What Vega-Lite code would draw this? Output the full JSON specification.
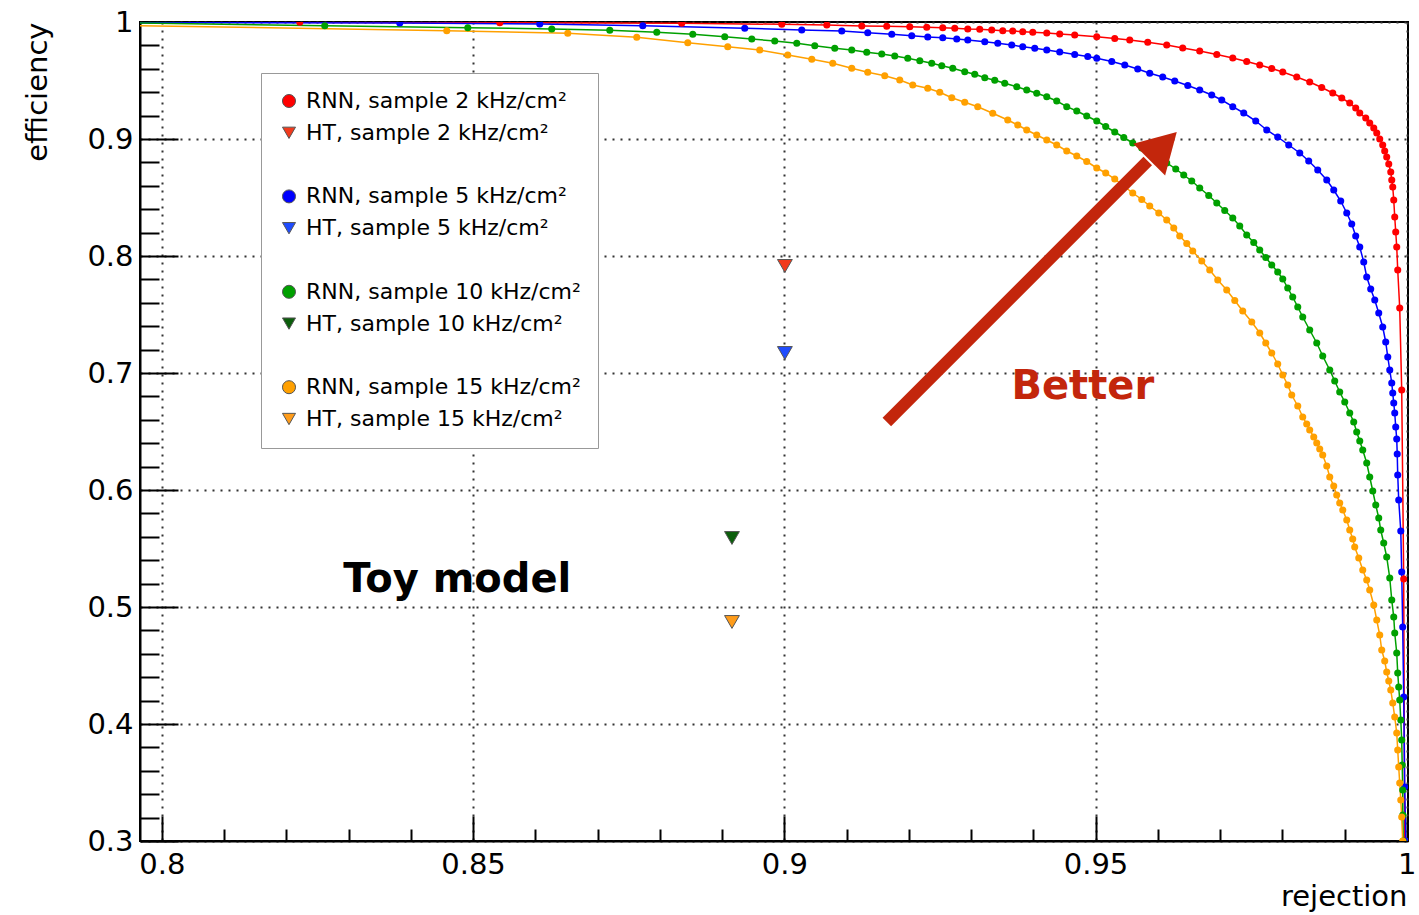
{
"$schema":"https://vega.github.io/schema/vega-lite/v6.json",
"width":1268,"height":819,
"autosize":{"type":"none"},
"padding":{"left":140,"top":22,"right":11,"bottom":74},
"background":"white",
"config":{"view":{"stroke":"black","strokeWidth":2},"font":"DejaVu Sans"},
"datasets":{
"curves":[
{"series":"RNN, sample 2 kHz/cm²","rejection":0.79,"efficiency":1.0},
{"series":"RNN, sample 2 kHz/cm²","rejection":0.82217,"efficiency":0.99974},
{"series":"RNN, sample 2 kHz/cm²","rejection":0.8543,"efficiency":0.9994},
{"series":"RNN, sample 2 kHz/cm²","rejection":0.88353,"efficiency":0.99889},
{"series":"RNN, sample 2 kHz/cm²","rejection":0.8996,"efficiency":0.99803},
{"series":"RNN, sample 2 kHz/cm²","rejection":0.90683,"efficiency":0.99744},
{"series":"RNN, sample 2 kHz/cm²","rejection":0.91245,"efficiency":0.99658},
{"series":"RNN, sample 2 kHz/cm²","rejection":0.91646,"efficiency":0.9964},
{"series":"RNN, sample 2 kHz/cm²","rejection":0.92016,"efficiency":0.99598},
{"series":"RNN, sample 2 kHz/cm²","rejection":0.92289,"efficiency":0.99547},
{"series":"RNN, sample 2 kHz/cm²","rejection":0.92546,"efficiency":0.99513},
{"series":"RNN, sample 2 kHz/cm²","rejection":0.92739,"efficiency":0.99462},
{"series":"RNN, sample 2 kHz/cm²","rejection":0.92948,"efficiency":0.99402},
{"series":"RNN, sample 2 kHz/cm²","rejection":0.9314,"efficiency":0.99376},
{"series":"RNN, sample 2 kHz/cm²","rejection":0.93333,"efficiency":0.99316},
{"series":"RNN, sample 2 kHz/cm²","rejection":0.9351,"efficiency":0.99256},
{"series":"RNN, sample 2 kHz/cm²","rejection":0.9367,"efficiency":0.99231},
{"series":"RNN, sample 2 kHz/cm²","rejection":0.93831,"efficiency":0.99171},
{"series":"RNN, sample 2 kHz/cm²","rejection":0.93992,"efficiency":0.9912},
{"series":"RNN, sample 2 kHz/cm²","rejection":0.94217,"efficiency":0.9906},
{"series":"RNN, sample 2 kHz/cm²","rejection":0.94425,"efficiency":0.98974},
{"series":"RNN, sample 2 kHz/cm²","rejection":0.94666,"efficiency":0.98889},
{"series":"RNN, sample 2 kHz/cm²","rejection":0.9502,"efficiency":0.98744},
{"series":"RNN, sample 2 kHz/cm²","rejection":0.95309,"efficiency":0.9859},
{"series":"RNN, sample 2 kHz/cm²","rejection":0.9555,"efficiency":0.98462},
{"series":"RNN, sample 2 kHz/cm²","rejection":0.95839,"efficiency":0.98265},
{"series":"RNN, sample 2 kHz/cm²","rejection":0.96144,"efficiency":0.98034},
{"series":"RNN, sample 2 kHz/cm²","rejection":0.96401,"efficiency":0.97778},
{"series":"RNN, sample 2 kHz/cm²","rejection":0.96674,"efficiency":0.97521},
{"series":"RNN, sample 2 kHz/cm²","rejection":0.96948,"efficiency":0.97222},
{"series":"RNN, sample 2 kHz/cm²","rejection":0.97205,"efficiency":0.96923},
{"series":"RNN, sample 2 kHz/cm²","rejection":0.97429,"efficiency":0.96624},
{"series":"RNN, sample 2 kHz/cm²","rejection":0.97638,"efficiency":0.96325},
{"series":"RNN, sample 2 kHz/cm²","rejection":0.97831,"efficiency":0.96026},
{"series":"RNN, sample 2 kHz/cm²","rejection":0.98008,"efficiency":0.95726},
{"series":"RNN, sample 2 kHz/cm²","rejection":0.98233,"efficiency":0.95299},
{"series":"RNN, sample 2 kHz/cm²","rejection":0.98441,"efficiency":0.94872},
{"series":"RNN, sample 2 kHz/cm²","rejection":0.98634,"efficiency":0.94402},
{"series":"RNN, sample 2 kHz/cm²","rejection":0.98811,"efficiency":0.93932},
{"series":"RNN, sample 2 kHz/cm²","rejection":0.98956,"efficiency":0.93504},
{"series":"RNN, sample 2 kHz/cm²","rejection":0.99084,"efficiency":0.93077},
{"series":"RNN, sample 2 kHz/cm²","rejection":0.9918,"efficiency":0.9265},
{"series":"RNN, sample 2 kHz/cm²","rejection":0.99245,"efficiency":0.92222},
{"series":"RNN, sample 2 kHz/cm²","rejection":0.99341,"efficiency":0.91795},
{"series":"RNN, sample 2 kHz/cm²","rejection":0.99405,"efficiency":0.91368},
{"series":"RNN, sample 2 kHz/cm²","rejection":0.9947,"efficiency":0.9094},
{"series":"RNN, sample 2 kHz/cm²","rejection":0.99518,"efficiency":0.90513},
{"series":"RNN, sample 2 kHz/cm²","rejection":0.99566,"efficiency":0.9},
{"series":"RNN, sample 2 kHz/cm²","rejection":0.99614,"efficiency":0.89487},
{"series":"RNN, sample 2 kHz/cm²","rejection":0.99646,"efficiency":0.88974},
{"series":"RNN, sample 2 kHz/cm²","rejection":0.99678,"efficiency":0.88462},
{"series":"RNN, sample 2 kHz/cm²","rejection":0.99711,"efficiency":0.87863},
{"series":"RNN, sample 2 kHz/cm²","rejection":0.99743,"efficiency":0.87179},
{"series":"RNN, sample 2 kHz/cm²","rejection":0.99759,"efficiency":0.86496},
{"series":"RNN, sample 2 kHz/cm²","rejection":0.99775,"efficiency":0.85897},
{"series":"RNN, sample 2 kHz/cm²","rejection":0.99791,"efficiency":0.84786},
{"series":"RNN, sample 2 kHz/cm²","rejection":0.99807,"efficiency":0.83333},
{"series":"RNN, sample 2 kHz/cm²","rejection":0.99823,"efficiency":0.82051},
{"series":"RNN, sample 2 kHz/cm²","rejection":0.99839,"efficiency":0.80769},
{"series":"RNN, sample 2 kHz/cm²","rejection":0.99855,"efficiency":0.78803},
{"series":"RNN, sample 2 kHz/cm²","rejection":0.99887,"efficiency":0.75556},
{"series":"RNN, sample 2 kHz/cm²","rejection":0.99919,"efficiency":0.68547},
{"series":"RNN, sample 2 kHz/cm²","rejection":0.99951,"efficiency":0.52393},
{"series":"RNN, sample 2 kHz/cm²","rejection":0.99967,"efficiency":0.3},
{"series":"RNN, sample 5 kHz/cm²","rejection":0.79,"efficiency":0.99957},
{"series":"RNN, sample 5 kHz/cm²","rejection":0.83823,"efficiency":0.99915},
{"series":"RNN, sample 5 kHz/cm²","rejection":0.86072,"efficiency":0.99829},
{"series":"RNN, sample 5 kHz/cm²","rejection":0.87727,"efficiency":0.99684},
{"series":"RNN, sample 5 kHz/cm²","rejection":0.89365,"efficiency":0.99462},
{"series":"RNN, sample 5 kHz/cm²","rejection":0.90281,"efficiency":0.99316},
{"series":"RNN, sample 5 kHz/cm²","rejection":0.90924,"efficiency":0.99231},
{"series":"RNN, sample 5 kHz/cm²","rejection":0.91341,"efficiency":0.99085},
{"series":"RNN, sample 5 kHz/cm²","rejection":0.91727,"efficiency":0.98949},
{"series":"RNN, sample 5 kHz/cm²","rejection":0.92048,"efficiency":0.98829},
{"series":"RNN, sample 5 kHz/cm²","rejection":0.92305,"efficiency":0.98718},
{"series":"RNN, sample 5 kHz/cm²","rejection":0.92546,"efficiency":0.98658},
{"series":"RNN, sample 5 kHz/cm²","rejection":0.92771,"efficiency":0.98547},
{"series":"RNN, sample 5 kHz/cm²","rejection":0.92948,"efficiency":0.98462},
{"series":"RNN, sample 5 kHz/cm²","rejection":0.93221,"efficiency":0.98316},
{"series":"RNN, sample 5 kHz/cm²","rejection":0.9343,"efficiency":0.98179},
{"series":"RNN, sample 5 kHz/cm²","rejection":0.93654,"efficiency":0.98034},
{"series":"RNN, sample 5 kHz/cm²","rejection":0.93831,"efficiency":0.97889},
{"series":"RNN, sample 5 kHz/cm²","rejection":0.94024,"efficiency":0.97752},
{"series":"RNN, sample 5 kHz/cm²","rejection":0.94217,"efficiency":0.97607},
{"series":"RNN, sample 5 kHz/cm²","rejection":0.94425,"efficiency":0.97436},
{"series":"RNN, sample 5 kHz/cm²","rejection":0.94666,"efficiency":0.97222},
{"series":"RNN, sample 5 kHz/cm²","rejection":0.94875,"efficiency":0.97051},
{"series":"RNN, sample 5 kHz/cm²","rejection":0.9502,"efficiency":0.96897},
{"series":"RNN, sample 5 kHz/cm²","rejection":0.95261,"efficiency":0.96624},
{"series":"RNN, sample 5 kHz/cm²","rejection":0.9547,"efficiency":0.96325},
{"series":"RNN, sample 5 kHz/cm²","rejection":0.95678,"efficiency":0.95983},
{"series":"RNN, sample 5 kHz/cm²","rejection":0.95871,"efficiency":0.95615},
{"series":"RNN, sample 5 kHz/cm²","rejection":0.9608,"efficiency":0.95299},
{"series":"RNN, sample 5 kHz/cm²","rejection":0.96273,"efficiency":0.94957},
{"series":"RNN, sample 5 kHz/cm²","rejection":0.96482,"efficiency":0.94573},
{"series":"RNN, sample 5 kHz/cm²","rejection":0.96674,"efficiency":0.94188},
{"series":"RNN, sample 5 kHz/cm²","rejection":0.96867,"efficiency":0.93761},
{"series":"RNN, sample 5 kHz/cm²","rejection":0.97028,"efficiency":0.93333},
{"series":"RNN, sample 5 kHz/cm²","rejection":0.97205,"efficiency":0.92761},
{"series":"RNN, sample 5 kHz/cm²","rejection":0.97381,"efficiency":0.92222},
{"series":"RNN, sample 5 kHz/cm²","rejection":0.97574,"efficiency":0.91538},
{"series":"RNN, sample 5 kHz/cm²","rejection":0.97751,"efficiency":0.90769},
{"series":"RNN, sample 5 kHz/cm²","rejection":0.97927,"efficiency":0.90171},
{"series":"RNN, sample 5 kHz/cm²","rejection":0.98104,"efficiency":0.89487},
{"series":"RNN, sample 5 kHz/cm²","rejection":0.98281,"efficiency":0.88803},
{"series":"RNN, sample 5 kHz/cm²","rejection":0.98425,"efficiency":0.8812},
{"series":"RNN, sample 5 kHz/cm²","rejection":0.9857,"efficiency":0.8735},
{"series":"RNN, sample 5 kHz/cm²","rejection":0.98715,"efficiency":0.86496},
{"series":"RNN, sample 5 kHz/cm²","rejection":0.98827,"efficiency":0.85641},
{"series":"RNN, sample 5 kHz/cm²","rejection":0.98939,"efficiency":0.84701},
{"series":"RNN, sample 5 kHz/cm²","rejection":0.99036,"efficiency":0.83675},
{"series":"RNN, sample 5 kHz/cm²","rejection":0.99116,"efficiency":0.82735},
{"series":"RNN, sample 5 kHz/cm²","rejection":0.9918,"efficiency":0.81709},
{"series":"RNN, sample 5 kHz/cm²","rejection":0.99245,"efficiency":0.80769},
{"series":"RNN, sample 5 kHz/cm²","rejection":0.99309,"efficiency":0.79487},
{"series":"RNN, sample 5 kHz/cm²","rejection":0.99357,"efficiency":0.78205},
{"series":"RNN, sample 5 kHz/cm²","rejection":0.99421,"efficiency":0.77179},
{"series":"RNN, sample 5 kHz/cm²","rejection":0.99486,"efficiency":0.76239},
{"series":"RNN, sample 5 kHz/cm²","rejection":0.9955,"efficiency":0.75128},
{"series":"RNN, sample 5 kHz/cm²","rejection":0.99614,"efficiency":0.73932},
{"series":"RNN, sample 5 kHz/cm²","rejection":0.99662,"efficiency":0.7265},
{"series":"RNN, sample 5 kHz/cm²","rejection":0.99695,"efficiency":0.71368},
{"series":"RNN, sample 5 kHz/cm²","rejection":0.99727,"efficiency":0.70256},
{"series":"RNN, sample 5 kHz/cm²","rejection":0.99759,"efficiency":0.69145},
{"series":"RNN, sample 5 kHz/cm²","rejection":0.99775,"efficiency":0.68291},
{"series":"RNN, sample 5 kHz/cm²","rejection":0.99791,"efficiency":0.67436},
{"series":"RNN, sample 5 kHz/cm²","rejection":0.99807,"efficiency":0.66581},
{"series":"RNN, sample 5 kHz/cm²","rejection":0.99823,"efficiency":0.65385},
{"series":"RNN, sample 5 kHz/cm²","rejection":0.99839,"efficiency":0.64359},
{"series":"RNN, sample 5 kHz/cm²","rejection":0.99847,"efficiency":0.63077},
{"series":"RNN, sample 5 kHz/cm²","rejection":0.99855,"efficiency":0.61282},
{"series":"RNN, sample 5 kHz/cm²","rejection":0.99871,"efficiency":0.59145},
{"series":"RNN, sample 5 kHz/cm²","rejection":0.99904,"efficiency":0.56496},
{"series":"RNN, sample 5 kHz/cm²","rejection":0.99919,"efficiency":0.52991},
{"series":"RNN, sample 5 kHz/cm²","rejection":0.99935,"efficiency":0.48291},
{"series":"RNN, sample 5 kHz/cm²","rejection":0.99951,"efficiency":0.42308},
{"series":"RNN, sample 5 kHz/cm²","rejection":0.99967,"efficiency":0.34615},
{"series":"RNN, sample 5 kHz/cm²","rejection":0.99984,"efficiency":0.3},
{"series":"RNN, sample 10 kHz/cm²","rejection":0.79,"efficiency":0.99957},
{"series":"RNN, sample 10 kHz/cm²","rejection":0.82618,"efficiency":0.99684},
{"series":"RNN, sample 10 kHz/cm²","rejection":0.84916,"efficiency":0.99513},
{"series":"RNN, sample 10 kHz/cm²","rejection":0.86265,"efficiency":0.99402},
{"series":"RNN, sample 10 kHz/cm²","rejection":0.87197,"efficiency":0.99291},
{"series":"RNN, sample 10 kHz/cm²","rejection":0.87952,"efficiency":0.9912},
{"series":"RNN, sample 10 kHz/cm²","rejection":0.8853,"efficiency":0.98949},
{"series":"RNN, sample 10 kHz/cm²","rejection":0.89044,"efficiency":0.98744},
{"series":"RNN, sample 10 kHz/cm²","rejection":0.89478,"efficiency":0.98547},
{"series":"RNN, sample 10 kHz/cm²","rejection":0.89847,"efficiency":0.98376},
{"series":"RNN, sample 10 kHz/cm²","rejection":0.90201,"efficiency":0.98179},
{"series":"RNN, sample 10 kHz/cm²","rejection":0.9049,"efficiency":0.97974},
{"series":"RNN, sample 10 kHz/cm²","rejection":0.90811,"efficiency":0.97752},
{"series":"RNN, sample 10 kHz/cm²","rejection":0.91084,"efficiency":0.97607},
{"series":"RNN, sample 10 kHz/cm²","rejection":0.91325,"efficiency":0.9741},
{"series":"RNN, sample 10 kHz/cm²","rejection":0.91566,"efficiency":0.97265},
{"series":"RNN, sample 10 kHz/cm²","rejection":0.91775,"efficiency":0.97094},
{"series":"RNN, sample 10 kHz/cm²","rejection":0.91984,"efficiency":0.96897},
{"series":"RNN, sample 10 kHz/cm²","rejection":0.92177,"efficiency":0.96692},
{"series":"RNN, sample 10 kHz/cm²","rejection":0.92369,"efficiency":0.9647},
{"series":"RNN, sample 10 kHz/cm²","rejection":0.9253,"efficiency":0.96265},
{"series":"RNN, sample 10 kHz/cm²","rejection":0.92707,"efficiency":0.96043},
{"series":"RNN, sample 10 kHz/cm²","rejection":0.92899,"efficiency":0.95752},
{"series":"RNN, sample 10 kHz/cm²","rejection":0.9306,"efficiency":0.9553},
{"series":"RNN, sample 10 kHz/cm²","rejection":0.93221,"efficiency":0.95239},
{"series":"RNN, sample 10 kHz/cm²","rejection":0.93381,"efficiency":0.95017},
{"series":"RNN, sample 10 kHz/cm²","rejection":0.93542,"efficiency":0.94761},
{"series":"RNN, sample 10 kHz/cm²","rejection":0.93735,"efficiency":0.9447},
{"series":"RNN, sample 10 kHz/cm²","rejection":0.93895,"efficiency":0.94188},
{"series":"RNN, sample 10 kHz/cm²","rejection":0.94056,"efficiency":0.93906},
{"series":"RNN, sample 10 kHz/cm²","rejection":0.94217,"efficiency":0.93615},
{"series":"RNN, sample 10 kHz/cm²","rejection":0.94377,"efficiency":0.93248},
{"series":"RNN, sample 10 kHz/cm²","rejection":0.94538,"efficiency":0.92761},
{"series":"RNN, sample 10 kHz/cm²","rejection":0.94699,"efficiency":0.92393},
{"series":"RNN, sample 10 kHz/cm²","rejection":0.94859,"efficiency":0.91966},
{"series":"RNN, sample 10 kHz/cm²","rejection":0.9502,"efficiency":0.91538},
{"series":"RNN, sample 10 kHz/cm²","rejection":0.95164,"efficiency":0.91068},
{"series":"RNN, sample 10 kHz/cm²","rejection":0.95309,"efficiency":0.90598},
{"series":"RNN, sample 10 kHz/cm²","rejection":0.95454,"efficiency":0.90128},
{"series":"RNN, sample 10 kHz/cm²","rejection":0.95598,"efficiency":0.89658},
{"series":"RNN, sample 10 kHz/cm²","rejection":0.95743,"efficiency":0.89231},
{"series":"RNN, sample 10 kHz/cm²","rejection":0.95871,"efficiency":0.88803},
{"series":"RNN, sample 10 kHz/cm²","rejection":0.96016,"efficiency":0.88376},
{"series":"RNN, sample 10 kHz/cm²","rejection":0.96144,"efficiency":0.87949},
{"series":"RNN, sample 10 kHz/cm²","rejection":0.96289,"efficiency":0.87436},
{"series":"RNN, sample 10 kHz/cm²","rejection":0.96417,"efficiency":0.86923},
{"series":"RNN, sample 10 kHz/cm²","rejection":0.96546,"efficiency":0.8641},
{"series":"RNN, sample 10 kHz/cm²","rejection":0.96674,"efficiency":0.85812},
{"series":"RNN, sample 10 kHz/cm²","rejection":0.96819,"efficiency":0.85171},
{"series":"RNN, sample 10 kHz/cm²","rejection":0.96948,"efficiency":0.8453},
{"series":"RNN, sample 10 kHz/cm²","rejection":0.97076,"efficiency":0.83889},
{"series":"RNN, sample 10 kHz/cm²","rejection":0.97205,"efficiency":0.83248},
{"series":"RNN, sample 10 kHz/cm²","rejection":0.97317,"efficiency":0.82564},
{"series":"RNN, sample 10 kHz/cm²","rejection":0.97429,"efficiency":0.81795},
{"series":"RNN, sample 10 kHz/cm²","rejection":0.97542,"efficiency":0.81154},
{"series":"RNN, sample 10 kHz/cm²","rejection":0.97638,"efficiency":0.80513},
{"series":"RNN, sample 10 kHz/cm²","rejection":0.97735,"efficiency":0.79872},
{"series":"RNN, sample 10 kHz/cm²","rejection":0.97831,"efficiency":0.79231},
{"series":"RNN, sample 10 kHz/cm²","rejection":0.97927,"efficiency":0.78632},
{"series":"RNN, sample 10 kHz/cm²","rejection":0.98008,"efficiency":0.78034},
{"series":"RNN, sample 10 kHz/cm²","rejection":0.98088,"efficiency":0.77265},
{"series":"RNN, sample 10 kHz/cm²","rejection":0.98168,"efficiency":0.76496},
{"series":"RNN, sample 10 kHz/cm²","rejection":0.98249,"efficiency":0.75641},
{"series":"RNN, sample 10 kHz/cm²","rejection":0.98329,"efficiency":0.74786},
{"series":"RNN, sample 10 kHz/cm²","rejection":0.98441,"efficiency":0.73675},
{"series":"RNN, sample 10 kHz/cm²","rejection":0.98554,"efficiency":0.72564},
{"series":"RNN, sample 10 kHz/cm²","rejection":0.9865,"efficiency":0.71453},
{"series":"RNN, sample 10 kHz/cm²","rejection":0.98763,"efficiency":0.70256},
{"series":"RNN, sample 10 kHz/cm²","rejection":0.98843,"efficiency":0.69316},
{"series":"RNN, sample 10 kHz/cm²","rejection":0.98923,"efficiency":0.68376},
{"series":"RNN, sample 10 kHz/cm²","rejection":0.99004,"efficiency":0.67521},
{"series":"RNN, sample 10 kHz/cm²","rejection":0.99084,"efficiency":0.66581},
{"series":"RNN, sample 10 kHz/cm²","rejection":0.99148,"efficiency":0.65812},
{"series":"RNN, sample 10 kHz/cm²","rejection":0.99196,"efficiency":0.64957},
{"series":"RNN, sample 10 kHz/cm²","rejection":0.99245,"efficiency":0.64188},
{"series":"RNN, sample 10 kHz/cm²","rejection":0.99293,"efficiency":0.63419},
{"series":"RNN, sample 10 kHz/cm²","rejection":0.99357,"efficiency":0.62308},
{"series":"RNN, sample 10 kHz/cm²","rejection":0.99405,"efficiency":0.61111},
{"series":"RNN, sample 10 kHz/cm²","rejection":0.99454,"efficiency":0.59915},
{"series":"RNN, sample 10 kHz/cm²","rejection":0.99502,"efficiency":0.58718},
{"series":"RNN, sample 10 kHz/cm²","rejection":0.9955,"efficiency":0.57607},
{"series":"RNN, sample 10 kHz/cm²","rejection":0.99582,"efficiency":0.56581},
{"series":"RNN, sample 10 kHz/cm²","rejection":0.9963,"efficiency":0.5547},
{"series":"RNN, sample 10 kHz/cm²","rejection":0.99678,"efficiency":0.54274},
{"series":"RNN, sample 10 kHz/cm²","rejection":0.99727,"efficiency":0.52479},
{"series":"RNN, sample 10 kHz/cm²","rejection":0.99759,"efficiency":0.50598},
{"series":"RNN, sample 10 kHz/cm²","rejection":0.99791,"efficiency":0.49145},
{"series":"RNN, sample 10 kHz/cm²","rejection":0.99807,"efficiency":0.47778},
{"series":"RNN, sample 10 kHz/cm²","rejection":0.99839,"efficiency":0.46068},
{"series":"RNN, sample 10 kHz/cm²","rejection":0.99855,"efficiency":0.44359},
{"series":"RNN, sample 10 kHz/cm²","rejection":0.99871,"efficiency":0.43162},
{"series":"RNN, sample 10 kHz/cm²","rejection":0.99887,"efficiency":0.42051},
{"series":"RNN, sample 10 kHz/cm²","rejection":0.99904,"efficiency":0.40342},
{"series":"RNN, sample 10 kHz/cm²","rejection":0.99919,"efficiency":0.38632},
{"series":"RNN, sample 10 kHz/cm²","rejection":0.99927,"efficiency":0.36496},
{"series":"RNN, sample 10 kHz/cm²","rejection":0.99935,"efficiency":0.34359},
{"series":"RNN, sample 10 kHz/cm²","rejection":0.99937,"efficiency":0.32222},
{"series":"RNN, sample 10 kHz/cm²","rejection":0.99943,"efficiency":0.3},
{"series":"RNN, sample 15 kHz/cm²","rejection":0.79,"efficiency":0.99744},
{"series":"RNN, sample 15 kHz/cm²","rejection":0.84578,"efficiency":0.99256},
{"series":"RNN, sample 15 kHz/cm²","rejection":0.86522,"efficiency":0.99034},
{"series":"RNN, sample 15 kHz/cm²","rejection":0.8763,"efficiency":0.98692},
{"series":"RNN, sample 15 kHz/cm²","rejection":0.8845,"efficiency":0.98231},
{"series":"RNN, sample 15 kHz/cm²","rejection":0.89092,"efficiency":0.97889},
{"series":"RNN, sample 15 kHz/cm²","rejection":0.89606,"efficiency":0.97607},
{"series":"RNN, sample 15 kHz/cm²","rejection":0.90056,"efficiency":0.97179},
{"series":"RNN, sample 15 kHz/cm²","rejection":0.90442,"efficiency":0.96812},
{"series":"RNN, sample 15 kHz/cm²","rejection":0.90779,"efficiency":0.9647},
{"series":"RNN, sample 15 kHz/cm²","rejection":0.91084,"efficiency":0.96043},
{"series":"RNN, sample 15 kHz/cm²","rejection":0.91341,"efficiency":0.95701},
{"series":"RNN, sample 15 kHz/cm²","rejection":0.91614,"efficiency":0.9541},
{"series":"RNN, sample 15 kHz/cm²","rejection":0.91855,"efficiency":0.95043},
{"series":"RNN, sample 15 kHz/cm²","rejection":0.92064,"efficiency":0.94615},
{"series":"RNN, sample 15 kHz/cm²","rejection":0.92305,"efficiency":0.94333},
{"series":"RNN, sample 15 kHz/cm²","rejection":0.92498,"efficiency":0.93991},
{"series":"RNN, sample 15 kHz/cm²","rejection":0.92691,"efficiency":0.9353},
{"series":"RNN, sample 15 kHz/cm²","rejection":0.92899,"efficiency":0.93137},
{"series":"RNN, sample 15 kHz/cm²","rejection":0.93108,"efficiency":0.92761},
{"series":"RNN, sample 15 kHz/cm²","rejection":0.93349,"efficiency":0.92197},
{"series":"RNN, sample 15 kHz/cm²","rejection":0.9359,"efficiency":0.91624},
{"series":"RNN, sample 15 kHz/cm²","rejection":0.93751,"efficiency":0.91197},
{"series":"RNN, sample 15 kHz/cm²","rejection":0.93895,"efficiency":0.90769},
{"series":"RNN, sample 15 kHz/cm²","rejection":0.94056,"efficiency":0.90342},
{"series":"RNN, sample 15 kHz/cm²","rejection":0.94217,"efficiency":0.89915},
{"series":"RNN, sample 15 kHz/cm²","rejection":0.94377,"efficiency":0.89487},
{"series":"RNN, sample 15 kHz/cm²","rejection":0.94538,"efficiency":0.88974},
{"series":"RNN, sample 15 kHz/cm²","rejection":0.94699,"efficiency":0.88547},
{"series":"RNN, sample 15 kHz/cm²","rejection":0.94859,"efficiency":0.88077},
{"series":"RNN, sample 15 kHz/cm²","rejection":0.9502,"efficiency":0.87521},
{"series":"RNN, sample 15 kHz/cm²","rejection":0.95164,"efficiency":0.87094},
{"series":"RNN, sample 15 kHz/cm²","rejection":0.95309,"efficiency":0.86581},
{"series":"RNN, sample 15 kHz/cm²","rejection":0.95454,"efficiency":0.85983},
{"series":"RNN, sample 15 kHz/cm²","rejection":0.95598,"efficiency":0.85385},
{"series":"RNN, sample 15 kHz/cm²","rejection":0.95743,"efficiency":0.84829},
{"series":"RNN, sample 15 kHz/cm²","rejection":0.95871,"efficiency":0.84274},
{"series":"RNN, sample 15 kHz/cm²","rejection":0.96016,"efficiency":0.83675},
{"series":"RNN, sample 15 kHz/cm²","rejection":0.96144,"efficiency":0.83077},
{"series":"RNN, sample 15 kHz/cm²","rejection":0.96257,"efficiency":0.82393},
{"series":"RNN, sample 15 kHz/cm²","rejection":0.96353,"efficiency":0.81709},
{"series":"RNN, sample 15 kHz/cm²","rejection":0.96466,"efficiency":0.81068},
{"series":"RNN, sample 15 kHz/cm²","rejection":0.96562,"efficiency":0.80427},
{"series":"RNN, sample 15 kHz/cm²","rejection":0.96707,"efficiency":0.79573},
{"series":"RNN, sample 15 kHz/cm²","rejection":0.96835,"efficiency":0.78803},
{"series":"RNN, sample 15 kHz/cm²","rejection":0.96964,"efficiency":0.77949},
{"series":"RNN, sample 15 kHz/cm²","rejection":0.97108,"efficiency":0.77094},
{"series":"RNN, sample 15 kHz/cm²","rejection":0.97237,"efficiency":0.76197},
{"series":"RNN, sample 15 kHz/cm²","rejection":0.97365,"efficiency":0.75299},
{"series":"RNN, sample 15 kHz/cm²","rejection":0.9751,"efficiency":0.74359},
{"series":"RNN, sample 15 kHz/cm²","rejection":0.97638,"efficiency":0.73419},
{"series":"RNN, sample 15 kHz/cm²","rejection":0.97735,"efficiency":0.72564},
{"series":"RNN, sample 15 kHz/cm²","rejection":0.97831,"efficiency":0.71709},
{"series":"RNN, sample 15 kHz/cm²","rejection":0.97927,"efficiency":0.70769},
{"series":"RNN, sample 15 kHz/cm²","rejection":0.98008,"efficiency":0.69829},
{"series":"RNN, sample 15 kHz/cm²","rejection":0.98088,"efficiency":0.68974},
{"series":"RNN, sample 15 kHz/cm²","rejection":0.98152,"efficiency":0.6812},
{"series":"RNN, sample 15 kHz/cm²","rejection":0.98249,"efficiency":0.67179},
{"series":"RNN, sample 15 kHz/cm²","rejection":0.98329,"efficiency":0.66239},
{"series":"RNN, sample 15 kHz/cm²","rejection":0.98393,"efficiency":0.65641},
{"series":"RNN, sample 15 kHz/cm²","rejection":0.98441,"efficiency":0.65128},
{"series":"RNN, sample 15 kHz/cm²","rejection":0.98506,"efficiency":0.6453},
{"series":"RNN, sample 15 kHz/cm²","rejection":0.98554,"efficiency":0.64017},
{"series":"RNN, sample 15 kHz/cm²","rejection":0.98602,"efficiency":0.63504},
{"series":"RNN, sample 15 kHz/cm²","rejection":0.9865,"efficiency":0.62991},
{"series":"RNN, sample 15 kHz/cm²","rejection":0.98715,"efficiency":0.62051},
{"series":"RNN, sample 15 kHz/cm²","rejection":0.98763,"efficiency":0.61111},
{"series":"RNN, sample 15 kHz/cm²","rejection":0.98827,"efficiency":0.60342},
{"series":"RNN, sample 15 kHz/cm²","rejection":0.98875,"efficiency":0.59573},
{"series":"RNN, sample 15 kHz/cm²","rejection":0.98923,"efficiency":0.58889},
{"series":"RNN, sample 15 kHz/cm²","rejection":0.98972,"efficiency":0.58291},
{"series":"RNN, sample 15 kHz/cm²","rejection":0.99036,"efficiency":0.57436},
{"series":"RNN, sample 15 kHz/cm²","rejection":0.99084,"efficiency":0.56581},
{"series":"RNN, sample 15 kHz/cm²","rejection":0.99132,"efficiency":0.55812},
{"series":"RNN, sample 15 kHz/cm²","rejection":0.99164,"efficiency":0.55128},
{"series":"RNN, sample 15 kHz/cm²","rejection":0.99229,"efficiency":0.54188},
{"series":"RNN, sample 15 kHz/cm²","rejection":0.99293,"efficiency":0.53162},
{"series":"RNN, sample 15 kHz/cm²","rejection":0.99357,"efficiency":0.52308},
{"series":"RNN, sample 15 kHz/cm²","rejection":0.99405,"efficiency":0.51453},
{"series":"RNN, sample 15 kHz/cm²","rejection":0.9947,"efficiency":0.50171},
{"series":"RNN, sample 15 kHz/cm²","rejection":0.99518,"efficiency":0.48889},
{"series":"RNN, sample 15 kHz/cm²","rejection":0.99566,"efficiency":0.47607},
{"series":"RNN, sample 15 kHz/cm²","rejection":0.99598,"efficiency":0.46325},
{"series":"RNN, sample 15 kHz/cm²","rejection":0.99646,"efficiency":0.45385},
{"series":"RNN, sample 15 kHz/cm²","rejection":0.99678,"efficiency":0.44444},
{"series":"RNN, sample 15 kHz/cm²","rejection":0.99711,"efficiency":0.43675},
{"series":"RNN, sample 15 kHz/cm²","rejection":0.99743,"efficiency":0.42906},
{"series":"RNN, sample 15 kHz/cm²","rejection":0.99775,"efficiency":0.41795},
{"series":"RNN, sample 15 kHz/cm²","rejection":0.99807,"efficiency":0.40598},
{"series":"RNN, sample 15 kHz/cm²","rejection":0.99839,"efficiency":0.39231},
{"series":"RNN, sample 15 kHz/cm²","rejection":0.99855,"efficiency":0.37778},
{"series":"RNN, sample 15 kHz/cm²","rejection":0.99871,"efficiency":0.36325},
{"series":"RNN, sample 15 kHz/cm²","rejection":0.99887,"efficiency":0.34957},
{"series":"RNN, sample 15 kHz/cm²","rejection":0.99904,"efficiency":0.33504},
{"series":"RNN, sample 15 kHz/cm²","rejection":0.99919,"efficiency":0.32051},
{"series":"RNN, sample 15 kHz/cm²","rejection":0.99935,"efficiency":0.3}
],
"ht":[
{"series":"HT, sample 2 kHz/cm²","rejection":0.9001,"efficiency":0.7915},
{"series":"HT, sample 5 kHz/cm²","rejection":0.9001,"efficiency":0.7171},
{"series":"HT, sample 10 kHz/cm²","rejection":0.8916,"efficiency":0.559},
{"series":"HT, sample 15 kHz/cm²","rejection":0.8916,"efficiency":0.4872}
],
"arrow":[{"rejection":0.91647,"efficiency":0.65812,"rejection2":0.95839,"efficiency2":0.8812}],
"arrowhead":[{"rejection":0.96084,"efficiency":0.89419}],
"toy":[{"label":"Toy model","rejection":0.84747,"efficiency":0.5231}],
"better":[{"label":"Better","rejection":0.94795,"efficiency":0.68803}]
},
"layer":[
{"data":{"name":"curves"},
 "transform":[{"filter":"datum.series == 'RNN, sample 2 kHz/cm²'"}],
 "mark":{"type":"line","strokeWidth":1.5,"clip":true,"color":"#ff0000"},
 "encoding":{
  "x":{"field":"rejection","type":"quantitative","scale":{"domain":[0.7965,1.0002],"nice":false,"zero":false},
   "axis":{"title":"rejection","values":[0.8,0.81,0.82,0.83,0.84,0.85,0.86,0.87,0.88,0.89,0.9,0.91,0.92,0.93,0.94,0.95,0.96,0.97,0.98,0.99,1],"tickCount":50,
    "format":"~g","labelExpr":"round(datum.value*100) % 5 == 0 ? datum.label : ''",
    "labelFont":"DejaVu Sans","labelFontSize":29,"labelColor":"black","labelBaseline":"alphabetic","labelPadding":57,"labelFlush":false,"labelOverlap":false,
    "tickSize":{"condition":{"test":"round(datum.value*100) % 5 == 0","value":-25},"value":-12},
    "tickColor":"black","tickWidth":2,"domainColor":"black","domainWidth":2,
    "grid":true,"gridColor":"#333333","gridDash":[2,6],"gridWidth":2,
    "gridOpacity":{"condition":{"test":"round(datum.value*100) % 5 == 0","value":1},"value":0},
    "titleFont":"DejaVu Sans","titleFontSize":29,"titleFontWeight":"normal","titleColor":"black","titleAlign":"right","titleBaseline":"alphabetic","titleX":1267,"titleY":64}},
  "y":{"field":"efficiency","type":"quantitative","scale":{"domain":[0.3,1.0],"nice":false,"zero":false},
   "axis":{"title":"efficiency","values":[0.3,0.32,0.34,0.36,0.38,0.4,0.42,0.44,0.46,0.48,0.5,0.52,0.54,0.56,0.58,0.6,0.62,0.64,0.66,0.68,0.7,0.72,0.74,0.76,0.78,0.8,0.82,0.84,0.86,0.88,0.9,0.92,0.94,0.96,0.98,1],"tickCount":80,
    "format":"~g","labelExpr":"round(datum.value*100) % 10 == 0 ? datum.label : ''",
    "labelFont":"DejaVu Sans","labelColor":"black","labelPadding":45,"labelFlush":false,"labelOverlap":false,
    "labelFontSize":{"condition":{"test":"round(datum.value*100) % 10 == 0","value":29},"value":0},
    "tickSize":{"condition":{"test":"round(datum.value*100) % 10 == 0","value":-38},"value":-19},
    "tickColor":"black","tickWidth":2,"domainColor":"black","domainWidth":2,
    "grid":true,"gridColor":"#333333","gridDash":[2,6],"gridWidth":2,
    "gridOpacity":{"condition":{"test":"round(datum.value*100) % 10 == 0","value":1},"value":0},
    "titleFont":"DejaVu Sans","titleFontSize":29,"titleFontWeight":"normal","titleColor":"black","titleAngle":-90,"titleAlign":"right","titleBaseline":"alphabetic","titleX":-94,"titleY":0}},
  "order":{"field":"efficiency","sort":"descending"}
 }},
{"data":{"name":"curves"},
 "transform":[{"filter":"datum.series == 'RNN, sample 5 kHz/cm²'"}],
 "mark":{"type":"line","strokeWidth":1.5,"clip":true,"color":"#0000ff"},
 "encoding":{
  "x":{"field":"rejection","type":"quantitative","scale":{"domain":[0.7965,1.0002],"nice":false,"zero":false}},
  "y":{"field":"efficiency","type":"quantitative","scale":{"domain":[0.3,1.0],"nice":false,"zero":false}},
  "order":{"field":"efficiency","sort":"descending"}
 }},
{"data":{"name":"curves"},
 "transform":[{"filter":"datum.series == 'RNN, sample 10 kHz/cm²'"}],
 "mark":{"type":"line","strokeWidth":1.5,"clip":true,"color":"#00a000"},
 "encoding":{
  "x":{"field":"rejection","type":"quantitative","scale":{"domain":[0.7965,1.0002],"nice":false,"zero":false}},
  "y":{"field":"efficiency","type":"quantitative","scale":{"domain":[0.3,1.0],"nice":false,"zero":false}},
  "order":{"field":"efficiency","sort":"descending"}
 }},
{"data":{"name":"curves"},
 "transform":[{"filter":"datum.series == 'RNN, sample 15 kHz/cm²'"}],
 "mark":{"type":"line","strokeWidth":1.5,"clip":true,"color":"#ffa000"},
 "encoding":{
  "x":{"field":"rejection","type":"quantitative","scale":{"domain":[0.7965,1.0002],"nice":false,"zero":false}},
  "y":{"field":"efficiency","type":"quantitative","scale":{"domain":[0.3,1.0],"nice":false,"zero":false}},
  "order":{"field":"efficiency","sort":"descending"}
 }},
{"data":{"name":"curves"},
 "mark":{"type":"point","filled":true,"size":50,"opacity":1,"clip":true},
 "encoding":{
  "x":{"field":"rejection","type":"quantitative","scale":{"domain":[0.7965,1.0002],"nice":false,"zero":false}},
  "y":{"field":"efficiency","type":"quantitative","scale":{"domain":[0.3,1.0],"nice":false,"zero":false}},
  "color":{"field":"series","type":"nominal",
   "scale":{"domain":["RNN, sample 2 kHz/cm²","HT, sample 2 kHz/cm²","gap1","RNN, sample 5 kHz/cm²","HT, sample 5 kHz/cm²","gap2","RNN, sample 10 kHz/cm²","HT, sample 10 kHz/cm²","gap3","RNN, sample 15 kHz/cm²","HT, sample 15 kHz/cm²"],
            "range":["#ff0000","#f23a1c","#ffffff","#0000ff","#1f4cff","#ffffff","#00a000","#0b5e0b","#ffffff","#ffa000","#ff9c1a"]},
   "legend":{"title":null,"orient":"none","legendX":121,"legendY":51,"padding":17,"fillColor":"white","strokeColor":"#999999","symbolSize":170,"symbolStrokeWidth":1,"symbolStrokeColor":"#555555","labelFont":"DejaVu Sans","labelFontSize":22,"labelOffset":6,"rowPadding":9.8,"labelLimit":400,
    "labelExpr":"indexof(datum.label,'gap')==0 ? '' : datum.label",
    "encode":{"labels":{"update":{"fill":{"scale":"color","field":"value"}}}}}},
  "shape":{"field":"series","type":"nominal",
   "scale":{"domain":["RNN, sample 2 kHz/cm²","HT, sample 2 kHz/cm²","gap1","RNN, sample 5 kHz/cm²","HT, sample 5 kHz/cm²","gap2","RNN, sample 10 kHz/cm²","HT, sample 10 kHz/cm²","gap3","RNN, sample 15 kHz/cm²","HT, sample 15 kHz/cm²"],
            "range":["circle","triangle-down","M0,0","circle","triangle-down","M0,0","circle","triangle-down","M0,0","circle","triangle-down"]},
   "legend":{"title":null,"orient":"none","legendX":121,"legendY":51,"padding":17,"fillColor":"white","strokeColor":"#999999","symbolSize":170,"symbolStrokeWidth":1,"symbolStrokeColor":"#555555","labelFont":"DejaVu Sans","labelFontSize":22,"labelOffset":6,"rowPadding":9.8,"labelLimit":400,
    "labelExpr":"indexof(datum.label,'gap')==0 ? '' : datum.label",
    "encode":{"labels":{"update":{"fill":{"scale":"color","field":"value"}}}}}}
 }},
{"data":{"name":"ht"},
 "mark":{"type":"point","filled":true,"size":220,"opacity":1,"stroke":"#555555","strokeWidth":1},
 "encoding":{
  "x":{"field":"rejection","type":"quantitative","scale":{"domain":[0.7965,1.0002],"nice":false,"zero":false}},
  "y":{"field":"efficiency","type":"quantitative","scale":{"domain":[0.3,1.0],"nice":false,"zero":false}},
  "color":{"field":"series","type":"nominal",
   "scale":{"domain":["RNN, sample 2 kHz/cm²","HT, sample 2 kHz/cm²","gap1","RNN, sample 5 kHz/cm²","HT, sample 5 kHz/cm²","gap2","RNN, sample 10 kHz/cm²","HT, sample 10 kHz/cm²","gap3","RNN, sample 15 kHz/cm²","HT, sample 15 kHz/cm²"],
            "range":["#ff0000","#f23a1c","#ffffff","#0000ff","#1f4cff","#ffffff","#00a000","#0b5e0b","#ffffff","#ffa000","#ff9c1a"]},
   "legend":{"title":null,"orient":"none","legendX":121,"legendY":51,"padding":17,"fillColor":"white","strokeColor":"#999999","symbolSize":170,"symbolStrokeWidth":1,"symbolStrokeColor":"#555555","labelFont":"DejaVu Sans","labelFontSize":22,"labelOffset":6,"rowPadding":9.8,"labelLimit":400,
    "labelExpr":"indexof(datum.label,'gap')==0 ? '' : datum.label",
    "encode":{"labels":{"update":{"fill":{"scale":"color","field":"value"}}}}}},
  "shape":{"field":"series","type":"nominal",
   "scale":{"domain":["RNN, sample 2 kHz/cm²","HT, sample 2 kHz/cm²","gap1","RNN, sample 5 kHz/cm²","HT, sample 5 kHz/cm²","gap2","RNN, sample 10 kHz/cm²","HT, sample 10 kHz/cm²","gap3","RNN, sample 15 kHz/cm²","HT, sample 15 kHz/cm²"],
            "range":["circle","triangle-down","M0,0","circle","triangle-down","M0,0","circle","triangle-down","M0,0","circle","triangle-down"]},
   "legend":{"title":null,"orient":"none","legendX":121,"legendY":51,"padding":17,"fillColor":"white","strokeColor":"#999999","symbolSize":170,"symbolStrokeWidth":1,"symbolStrokeColor":"#555555","labelFont":"DejaVu Sans","labelFontSize":22,"labelOffset":6,"rowPadding":9.8,"labelLimit":400,
    "labelExpr":"indexof(datum.label,'gap')==0 ? '' : datum.label",
    "encode":{"labels":{"update":{"fill":{"scale":"color","field":"value"}}}}}}
 }},
{"data":{"name":"arrow"},
 "mark":{"type":"rule","color":"#c3260c","strokeWidth":12,"strokeCap":"butt"},
 "encoding":{
  "x":{"field":"rejection","type":"quantitative","scale":{"domain":[0.7965,1.0002],"nice":false,"zero":false}},
  "y":{"field":"efficiency","type":"quantitative","scale":{"domain":[0.3,1.0],"nice":false,"zero":false}},
  "x2":{"field":"rejection2"},
  "y2":{"field":"efficiency2"}
 }},
{"data":{"name":"arrowhead"},
 "mark":{"type":"point","shape":"triangle-up","filled":true,"size":2025,"angle":45,"color":"#c3260c","opacity":1},
 "encoding":{
  "x":{"field":"rejection","type":"quantitative","scale":{"domain":[0.7965,1.0002],"nice":false,"zero":false}},
  "y":{"field":"efficiency","type":"quantitative","scale":{"domain":[0.3,1.0],"nice":false,"zero":false}}
 }},
{"data":{"name":"toy"},
 "mark":{"type":"text","font":"DejaVu Sans","fontWeight":"bold","fontSize":40,"align":"center","baseline":"middle","color":"black"},
 "encoding":{
  "x":{"field":"rejection","type":"quantitative","scale":{"domain":[0.7965,1.0002],"nice":false,"zero":false}},
  "y":{"field":"efficiency","type":"quantitative","scale":{"domain":[0.3,1.0],"nice":false,"zero":false}},
  "text":{"field":"label"}
 }},
{"data":{"name":"better"},
 "mark":{"type":"text","font":"DejaVu Sans","fontWeight":"bold","fontSize":40,"align":"center","baseline":"middle","color":"#c3260c"},
 "encoding":{
  "x":{"field":"rejection","type":"quantitative","scale":{"domain":[0.7965,1.0002],"nice":false,"zero":false}},
  "y":{"field":"efficiency","type":"quantitative","scale":{"domain":[0.3,1.0],"nice":false,"zero":false}},
  "text":{"field":"label"}
 }}
]
}
